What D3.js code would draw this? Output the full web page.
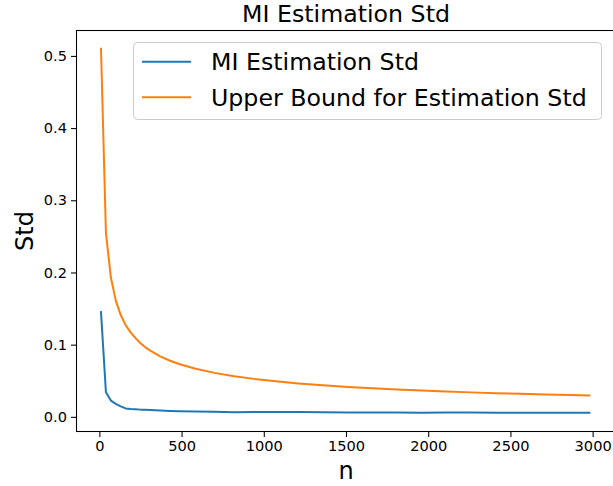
<!DOCTYPE html>
<html>
<head>
<meta charset="utf-8">
<script src="https://cdn.jsdelivr.net/npm/d3@7"></script>
<style>
  body { margin: 0; background: #fff; }
  svg { font-family: "DejaVu Sans", sans-serif; }
</style>
</head>
<body>
<div id="chart"></div>
<script>
// sample sizes (x axis)
const nValues = [10, 40, 70, 100, 130, 160, 190, 220, 250, 280, 310, 370, 430, 490, 580, 700,
  820, 940, 1060, 1210, 1360, 1510, 1660, 1810, 1960, 2110, 2260, 2410, 2560, 2710, 2860, 2980];

// MI estimation std (blue)
const miStd = [0.145, 0.034, 0.0225, 0.018, 0.0145, 0.0117, 0.0110, 0.0105, 0.0100, 0.0097, 0.0094,
  0.0088, 0.0082, 0.0078, 0.0075, 0.0070, 0.0064, 0.0066, 0.0066, 0.0067, 0.0063, 0.0059, 0.0060,
  0.0060, 0.0058, 0.0060, 0.0059, 0.0057, 0.0057, 0.0058, 0.0057, 0.0057];

// upper bound (orange)
const upperBound = [0.510, 0.255, 0.193, 0.161, 0.141, 0.127, 0.117, 0.109, 0.102, 0.0963, 0.0916,
  0.0838, 0.0777, 0.0728, 0.0669, 0.0609, 0.0563, 0.0526, 0.0495, 0.0463, 0.0437, 0.0415, 0.0396,
  0.0379, 0.0364, 0.0351, 0.0339, 0.0328, 0.0319, 0.0310, 0.0301, 0.0295];

const xTicks = [0, 500, 1000, 1500, 2000, 2500, 3000];
const yTicks = [0, 0.1, 0.2, 0.3, 0.4, 0.5];
const seriesNames = ["MI Estimation Std", "Upper Bound for Estimation Std"];
const colors = ["#1f77b4", "#ff7f0e"];

const width = 613, height = 486;
const plotLeft = 76.5, plotRight = 615.5, plotTop = 30.5, plotBottom = 431.5;

const svg = d3.select("#chart").append("svg")
    .attr("width", width)
    .attr("height", height);

const x = d3.scaleLinear().domain([-139, 3139]).range([plotLeft, plotRight]);
const y = d3.scaleLinear().domain([-0.0203, 0.5352]).range([plotBottom, plotTop]);

// axes
const xAxis = svg.append("g")
    .attr("transform", `translate(0,${plotBottom})`)
    .call(d3.axisBottom(x).tickValues(xTicks).tickFormat(d3.format("d"))
        .tickSize(5.5).tickPadding(4).tickSizeOuter(0));
const yAxis = svg.append("g")
    .attr("transform", `translate(${plotLeft},0)`)
    .call(d3.axisLeft(y).tickValues(yTicks).tickFormat(d3.format(".1f"))
        .tickSize(5.5).tickPadding(4).tickSizeOuter(0));

[xAxis, yAxis].forEach(g => {
  g.select(".domain").remove();
  g.selectAll("line").attr("stroke", "#000").attr("stroke-width", 1.07);
  g.selectAll("text").attr("fill", "#000")
      .style("font-family", "DejaVu Sans").style("font-size", "14.6px");
});

// spines
svg.append("rect")
    .attr("x", plotLeft).attr("y", plotTop)
    .attr("width", plotRight - plotLeft).attr("height", plotBottom - plotTop)
    .attr("fill", "none").attr("stroke", "#000").attr("stroke-width", 1.07);

// lines
const line = vals => d3.line()
    .x((d, i) => x(nValues[i]))
    .y(d => y(d))(vals);

[miStd, upperBound].forEach((vals, k) => {
  svg.append("path")
      .attr("d", line(vals))
      .attr("fill", "none")
      .attr("stroke", colors[k])
      .attr("stroke-width", 2)
      .attr("stroke-linejoin", "round")
      .attr("stroke-linecap", "square");
});

// title and labels
svg.append("text")
    .attr("x", (plotLeft + plotRight) / 2).attr("y", 21.5)
    .attr("text-anchor", "middle")
    .style("font-size", "23.7px")
    .text("MI Estimation Std");

svg.append("text")
    .attr("x", (plotLeft + plotRight) / 2).attr("y", 479)
    .attr("text-anchor", "middle")
    .style("font-size", "24px")
    .text("n");

svg.append("text")
    .attr("transform", `translate(33,${(plotTop + plotBottom) / 2}) rotate(-90)`)
    .attr("text-anchor", "middle")
    .style("font-size", "24px")
    .text("Std");

// legend
const legend = svg.append("g");
legend.append("rect")
    .attr("x", 133.5).attr("y", 42.5)
    .attr("width", 468).attr("height", 77)
    .attr("rx", 4)
    .attr("fill", "#fff").attr("fill-opacity", 0.8)
    .attr("stroke", "#cccccc").attr("stroke-width", 1);

const rows = [61.7, 97.3];
seriesNames.forEach((name, k) => {
  legend.append("line")
      .attr("x1", 142).attr("x2", 191)
      .attr("y1", rows[k]).attr("y2", rows[k])
      .attr("stroke", colors[k]).attr("stroke-width", 2);
  legend.append("text")
      .attr("x", 211).attr("y", rows[k] + 8.5)
      .style("font-size", "23.7px")
      .text(name);
});
</script>
</body>
</html>
